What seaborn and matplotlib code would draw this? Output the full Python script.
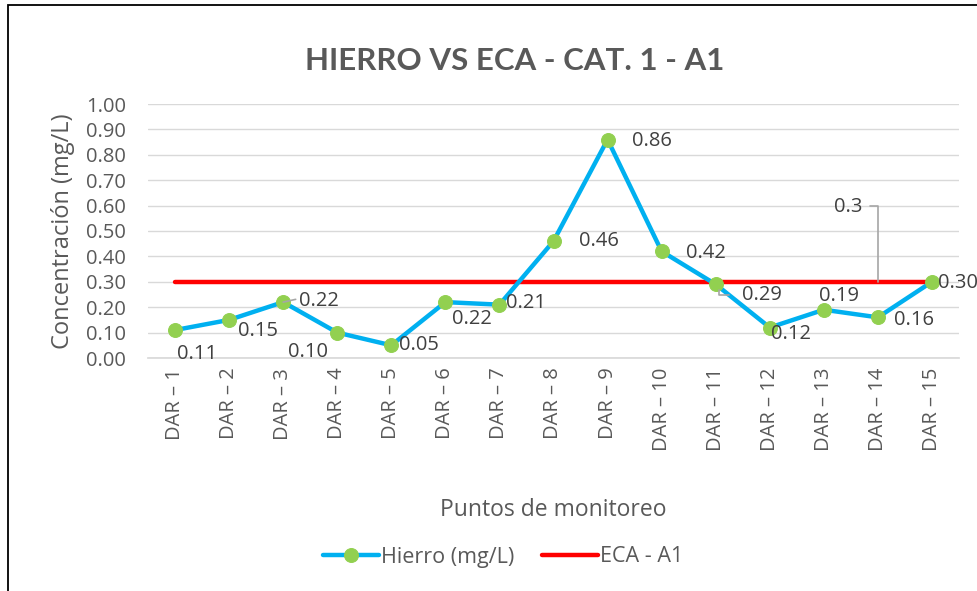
import pandas as pd
import numpy as np
import matplotlib.pyplot as plt
import seaborn as sns
from matplotlib.patches import Rectangle

# Data
puntos = ["DAR – 1", "DAR – 2", "DAR – 3", "DAR – 4", "DAR – 5", "DAR – 6", "DAR – 7",
          "DAR – 8", "DAR – 9", "DAR – 10", "DAR – 11", "DAR – 12", "DAR – 13",
          "DAR – 14", "DAR – 15"]
hierro = [0.11, 0.15, 0.22, 0.10, 0.05, 0.22, 0.21, 0.46, 0.86, 0.42, 0.29, 0.12, 0.19, 0.16, 0.30]
eca = [0.3] * 15
yticks = [0.0, 0.1, 0.2, 0.3, 0.4, 0.5, 0.6, 0.7, 0.8, 0.9, 1.0]

df = pd.DataFrame({"Punto": puntos, "Hierro": hierro, "ECA": eca})

sns.set_theme(style="white")
plt.rcParams["font.family"] = ["Open Sans", "DejaVu Sans"]
gray = "#595959"
leader = dict(arrowstyle="-", color="#a6a6a6", lw=1.2, shrinkA=0, shrinkB=0,
              connectionstyle="angle,angleA=0,angleB=90,rad=0")

fig = plt.figure(figsize=(9.77, 5.91), dpi=100)
ax = fig.add_axes([148 / 977, 1 - 358 / 591, (959 - 148) / 977, (358 - 104) / 591])

sns.lineplot(data=df, x="Punto", y="ECA", ax=ax, color="#FF0000", linewidth=3.2,
             label="ECA - A1", zorder=2, sort=False)
sns.lineplot(data=df, x="Punto", y="Hierro", ax=ax, color="#00B0F0", linewidth=3.2,
             marker="o", markersize=10, markerfacecolor="#92D050",
             markeredgecolor="#92D050", label="Hierro (mg/L)", zorder=3, sort=False)

ax.set_xlim(-0.5, 14.5)
ax.set_ylim(0, 1.0)
ax.set_yticks(yticks)
ax.set_yticklabels([f"{v:.2f}" for v in yticks], fontsize=14.5, color=gray)
ax.tick_params(axis="x", labelrotation=90, labelsize=14.5, colors=gray, length=0, pad=7)
ax.tick_params(axis="y", length=0, pad=16)
ax.grid(axis="y", color="#d9d9d9", linewidth=1)
for s in ["top", "right", "left"]:
    ax.spines[s].set_visible(False)
ax.spines["bottom"].set_color("#d9d9d9")

# Data labels (offsets in points)
offsets = [(16, -17), (21, -8), (26, 1), (-21, -14), (20, 0), (19, -12), (19, 1),
           (33, 0), (32, -1), (32, -1), (33, -8), (15, -5), (11, 10), (26, -2), (19, -1)]
for i, (v, off) in enumerate(zip(hierro, offsets)):
    ax.annotate(f"{v:.2f}", (i, v), xytext=off, textcoords="offset points",
                ha="center", va="center", fontsize=14.5, color="#404040",
                annotation_clip=False, clip_on=False)

# small leader lines next to two labels
ax.annotate("", xy=(2, 0.22), xytext=(9, 2), textcoords="offset points",
            arrowprops=dict(arrowstyle="-", color="#a6a6a6", lw=1.2, shrinkA=0, shrinkB=0))
ax.annotate("", xy=(10.06, 0.268), xytext=(10.25, 0.248), arrowprops=leader)

# Callout for the ECA line
ax.text(12.45, 0.594, "0.3", ha="center", va="center", fontsize=14.5, color="#404040")
ax.annotate("", xy=(13.0, 0.3), xytext=(12.85, 0.598), arrowprops=leader)

ax.set_xlabel("Puntos de monitoreo", fontsize=16.5, color=gray, labelpad=34)
ax.set_ylabel("Concentración (mg/L)", fontsize=17, color=gray, labelpad=8)
fig.text(0.527, 1 - 61 / 591, "HIERRO VS ECA - CAT. 1 - A1", ha="center", va="center",
         fontsize=22.5, fontweight="bold", color=gray, family=["Lato", "DejaVu Sans"])

handles, labels = ax.get_legend_handles_labels()
ax.legend(handles[::-1], labels[::-1], loc="center", bbox_to_anchor=(0.515, 1 - 557 / 591),
          bbox_transform=fig.transFigure, ncol=2, frameon=False, fontsize=15.5,
          labelcolor=gray, handlelength=2.6, columnspacing=1.3, handletextpad=0.1)

# Outer chart frame (only top and left visible)
fig.add_artist(Rectangle((8 / 977, -0.1), 2, 1 - 5 / 591 + 0.1, transform=fig.transFigure,
                         fill=False, edgecolor="black", linewidth=1.3))

fig.savefig("out.png", dpi=100, facecolor="white")
